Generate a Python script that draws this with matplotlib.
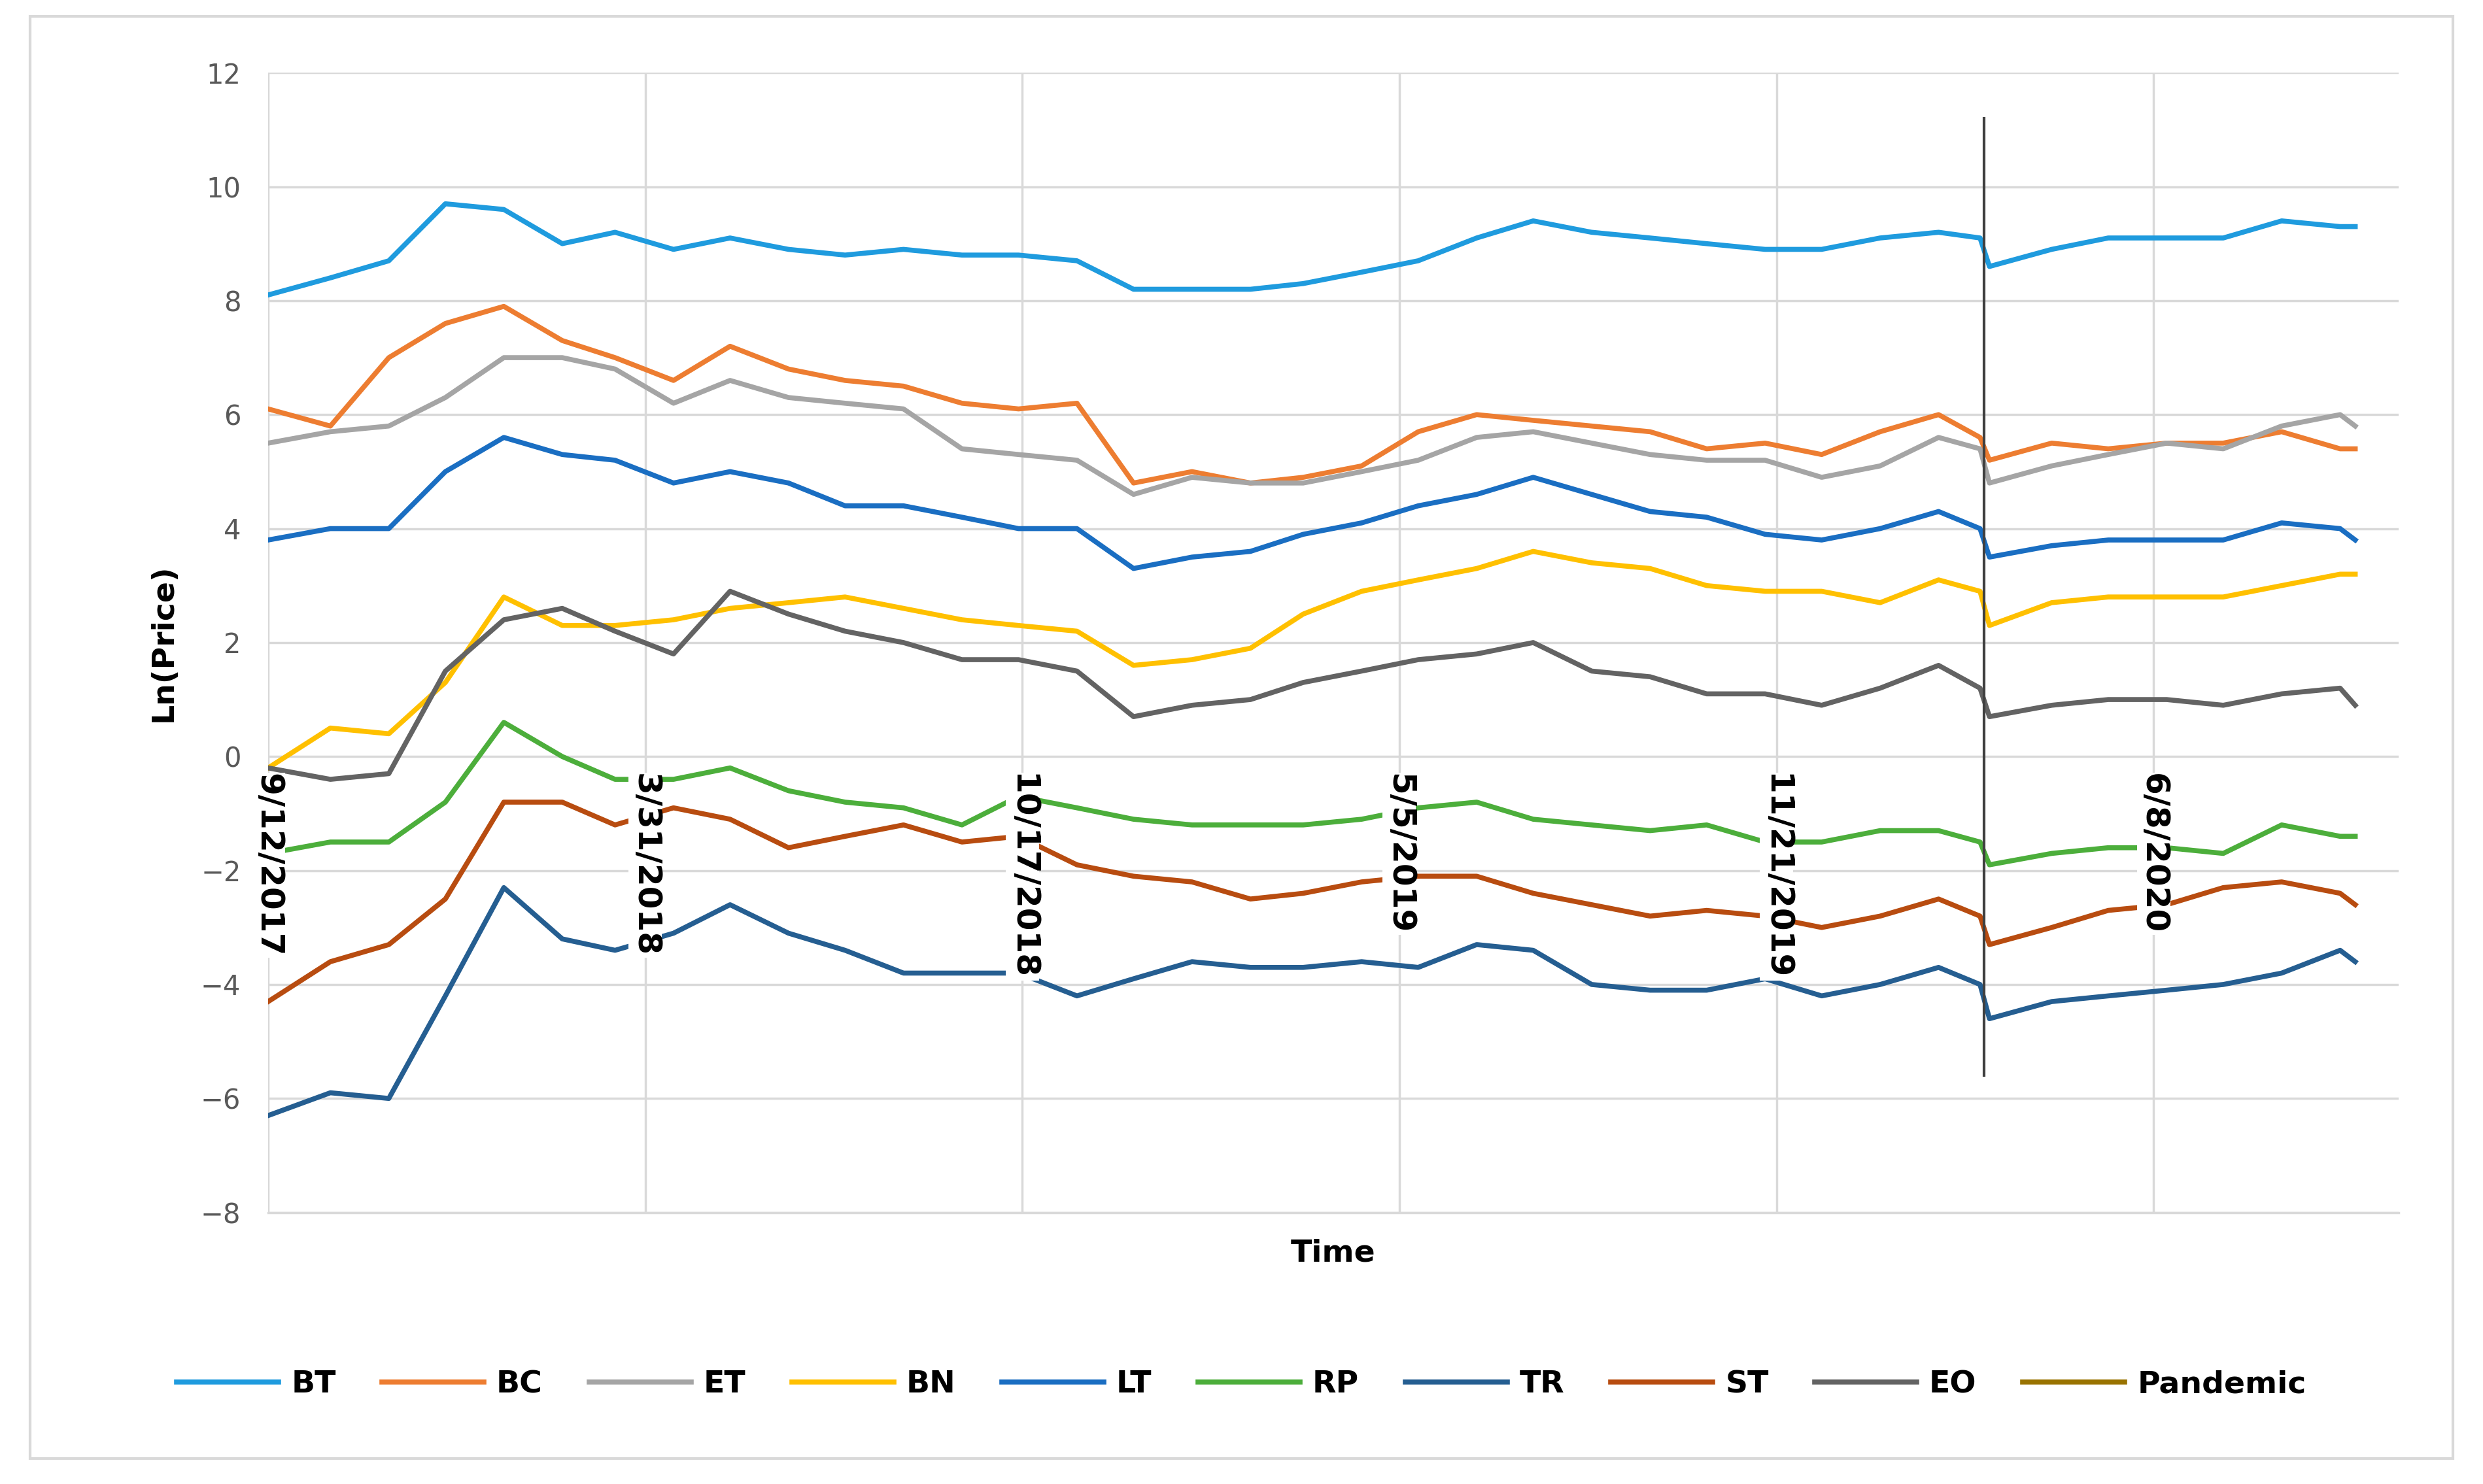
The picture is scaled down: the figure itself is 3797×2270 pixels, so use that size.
import matplotlib
matplotlib.use("Agg")
import matplotlib.pyplot as plt
import pandas as pd
from matplotlib.patches import Rectangle

dates = (["2017-09-12"] + [f"{y}-{m:02d}-15" for y, m in
         [(2017,10),(2017,11),(2017,12)] + [(2018,i) for i in range(1,13)] +
         [(2019,i) for i in range(1,13)] + [(2020,1),(2020,2)]]
         + ["2020-03-08", "2020-03-13"]
         + [f"2020-{m:02d}-15" for m in range(4,10)] + ["2020-09-23"])
dates = pd.to_datetime(dates)

BT = [8.1,8.4,8.7,9.7,9.6,9.0,9.2,8.9,9.1,8.9,8.8,8.9,8.8,8.8,8.7,8.2,8.2,8.2,8.3,8.5,8.7,9.1,9.4,9.2,9.1,9.0,8.9,8.9,9.1,9.2,9.1,8.6,8.9,9.1,9.1,9.1,9.4,9.3,9.3]
BC = [6.1,5.8,7.0,7.6,7.9,7.3,7.0,6.6,7.2,6.8,6.6,6.5,6.2,6.1,6.2,4.8,5.0,4.8,4.9,5.1,5.7,6.0,5.9,5.8,5.7,5.4,5.5,5.3,5.7,6.0,5.6,5.2,5.5,5.4,5.5,5.5,5.7,5.4,5.4]
ET = [5.5,5.7,5.8,6.3,7.0,7.0,6.8,6.2,6.6,6.3,6.2,6.1,5.4,5.3,5.2,4.6,4.9,4.8,4.8,5.0,5.2,5.6,5.7,5.5,5.3,5.2,5.2,4.9,5.1,5.6,5.4,4.8,5.1,5.3,5.5,5.4,5.8,6.0,5.8]
BN = [-0.2,0.5,0.4,1.3,2.8,2.3,2.3,2.4,2.6,2.7,2.8,2.6,2.4,2.3,2.2,1.6,1.7,1.9,2.5,2.9,3.1,3.3,3.6,3.4,3.3,3.0,2.9,2.9,2.7,3.1,2.9,2.3,2.7,2.8,2.8,2.8,3.0,3.2,3.2]
LT = [3.8,4.0,4.0,5.0,5.6,5.3,5.2,4.8,5.0,4.8,4.4,4.4,4.2,4.0,4.0,3.3,3.5,3.6,3.9,4.1,4.4,4.6,4.9,4.6,4.3,4.2,3.9,3.8,4.0,4.3,4.0,3.5,3.7,3.8,3.8,3.8,4.1,4.0,3.8]
RP = [-1.7,-1.5,-1.5,-0.8,0.6,0.0,-0.4,-0.4,-0.2,-0.6,-0.8,-0.9,-1.2,-0.7,-0.9,-1.1,-1.2,-1.2,-1.2,-1.1,-0.9,-0.8,-1.1,-1.2,-1.3,-1.2,-1.5,-1.5,-1.3,-1.3,-1.5,-1.9,-1.7,-1.6,-1.6,-1.7,-1.2,-1.4,-1.4]
TR = [-6.3,-5.9,-6.0,-4.2,-2.3,-3.2,-3.4,-3.1,-2.6,-3.1,-3.4,-3.8,-3.8,-3.8,-4.2,-3.9,-3.6,-3.7,-3.7,-3.6,-3.7,-3.3,-3.4,-4.0,-4.1,-4.1,-3.9,-4.2,-4.0,-3.7,-4.0,-4.6,-4.3,-4.2,-4.1,-4.0,-3.8,-3.4,-3.6]
ST = [-4.3,-3.6,-3.3,-2.5,-0.8,-0.8,-1.2,-0.9,-1.1,-1.6,-1.4,-1.2,-1.5,-1.4,-1.9,-2.1,-2.2,-2.5,-2.4,-2.2,-2.1,-2.1,-2.4,-2.6,-2.8,-2.7,-2.8,-3.0,-2.8,-2.5,-2.8,-3.3,-3.0,-2.7,-2.6,-2.3,-2.2,-2.4,-2.6]
EO = [-0.2,-0.4,-0.3,1.5,2.4,2.6,2.2,1.8,2.9,2.5,2.2,2.0,1.7,1.7,1.5,0.7,0.9,1.0,1.3,1.5,1.7,1.8,2.0,1.5,1.4,1.1,1.1,0.9,1.2,1.6,1.2,0.7,0.9,1.0,1.0,0.9,1.1,1.2,0.9]

series = [("BT", BT, "#1f9bde"), ("BC", BC, "#ed7d31"), ("ET", ET, "#a5a5a5"),
          ("BN", BN, "#ffc000"), ("LT", LT, "#1a6ec2"), ("RP", RP, "#4cae3b"),
          ("TR", TR, "#255e91"), ("ST", ST, "#b84c10"), ("EO", EO, "#636363")]

tick_dates = pd.to_datetime(["2017-09-12","2018-03-31","2018-10-17","2019-05-05","2019-11-21","2020-06-08"])
tick_labels = ["9/12/2017","3/31/2018","10/17/2018","5/5/2019","11/21/2019","6/8/2020"]
pandemic_date = pd.Timestamp("2020-03-10")

fig = plt.figure(figsize=(37.97, 22.70), dpi=100)
fig.patches.append(Rectangle((0.012, 0.017), 0.976, 0.972, transform=fig.transFigure,
                             fill=False, edgecolor="#d9d9d9", linewidth=3))
ax = fig.add_axes([0.108, 0.183, 0.858, 0.768])
for name, vals, c in series:
    ax.plot(dates, vals, color=c, linewidth=5.5, label=name, zorder=3)
ax.plot([pandemic_date, pandemic_date], [11.2, -5.6], color="#404040", linewidth=3, zorder=4)
ax.plot([], [], color="#997300", linewidth=5.5, label="Pandemic")

ax.set_xlim(pd.Timestamp("2017-09-12"), pd.Timestamp("2020-10-16"))
ax.set_ylim(-8, 12)
ax.set_yticks(range(-8, 13, 2))
ax.set_xticks(tick_dates)
ax.set_xticklabels([])
ax.grid(True, color="#d9d9d9", linewidth=2.5, zorder=0)
ax.tick_params(axis="both", length=0, labelsize=30, colors="#595959")
ax.tick_params(axis="y", pad=30)
for s in ["top", "right", "left"]:
    ax.spines[s].set_visible(False)
ax.spines["bottom"].set_color("#d9d9d9")
ax.spines["bottom"].set_linewidth(2.5)
for d, lab in zip(tick_dates, tick_labels):
    ax.text(d, -0.3, lab, rotation=270, ha="center", va="top", fontsize=36,
            fontweight="bold", zorder=5,
            bbox=dict(facecolor="white", edgecolor="none", pad=1))
ax.set_ylabel("Ln(Price)", fontsize=34, fontweight="bold", labelpad=25)
ax.set_xlabel("Time", fontsize=34, fontweight="bold", labelpad=25)
fig.legend(loc="center", bbox_to_anchor=(0.5, 0.067), ncol=10, frameon=False,
           handlelength=3.3, columnspacing=1.5, handletextpad=0.4,
           prop={"weight": "bold", "size": 34})
fig.savefig("out.png", dpi=100)
